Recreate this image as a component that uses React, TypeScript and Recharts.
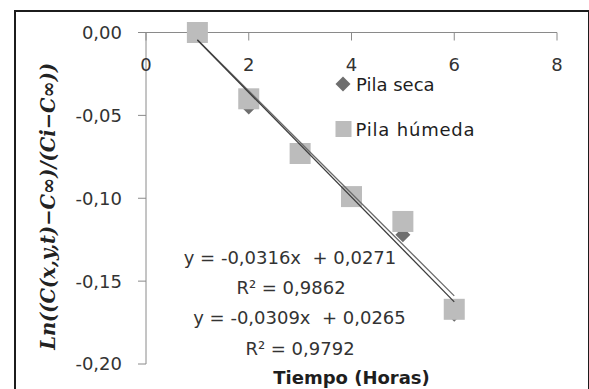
import React from 'react';
import { ComposedChart, Scatter, XAxis, YAxis } from 'recharts';

const horas = [1, 2, 3, 4, 5, 6];
const pilaSeca = [0, -0.045, -0.071, -0.098, -0.122, -0.17];
const pilaHumeda = [0, -0.04, -0.073, -0.099, -0.114, -0.167];
const xTicks = [0, 2, 4, 6, 8];
const yTicks = [-0.2, -0.15, -0.1, -0.05, 0];
const seriesNames = ['Pila seca', 'Pila húmeda'];
const trendSeca = { slope: -0.0316, intercept: 0.0271, r2: 0.9862 };
const trendHumeda = { slope: -0.0309, intercept: 0.0265, r2: 0.9792 };
const trendRange = [1, 6];
const xTitle = 'Tiempo (Horas)';
const yTitle = 'Ln((C(x,y,t)−C∞)/(Ci−C∞))';

const FONT = '"DejaVu Sans", sans-serif';
const AXIS = '#8a8a8a';
const TEXT = '#333333';
const SQ = '#bcbcbc';
const DIA = '#6e6e6e';

const secaData = horas.map((x, i) => ({ x, y: pilaSeca[i] }));
const humedaData = horas.map((x, i) => ({ x, y: pilaHumeda[i] }));
const lineOf = (t: { slope: number; intercept: number }) =>
  trendRange.map((x) => ({ x, y: t.slope * x + t.intercept }));

const comma = (v: number, d: number) => v.toFixed(d).replace('.', ',');
const eq = (t: { slope: number; intercept: number }) =>
  `y = ${comma(t.slope, 4)}x  + ${comma(t.intercept, 4)}`;
const r2 = (t: { r2: number }) => `R² = ${comma(t.r2, 4)}`;

const Square = (p: any) => (
  <rect x={p.cx - 10.5} y={p.cy - 10.5} width={21} height={21} fill={SQ} />
);
const Diamond = (p: any) => (
  <polygon
    points={`${p.cx},${p.cy - 7.5} ${p.cx + 7.5},${p.cy} ${p.cx},${p.cy + 7.5} ${p.cx - 7.5},${p.cy}`}
    fill={DIA}
  />
);
const NoShape = () => <g />;

const XTick = (p: any) => (
  <g>
    <line x1={p.x} x2={p.x} y1={p.y} y2={p.y + 8} stroke={AXIS} />
    <text
      x={p.x}
      y={p.y + 32}
      textAnchor="middle"
      dominantBaseline="central"
      fontFamily={FONT}
      fontSize={18}
      fill={TEXT}
    >
      {p.payload.value}
    </text>
  </g>
);

const YTitle = (p: any) => {
  const vb = p.viewBox;
  const cx = vb.x + 2;
  const cy = vb.y + vb.height / 2 + 8;
  return (
    <text
      x={cx}
      y={cy}
      transform={`rotate(-90 ${cx} ${cy})`}
      textAnchor="middle"
      dominantBaseline="central"
      fontFamily='"DejaVu Serif", serif'
      fontWeight="bold"
      fontStyle="italic"
      fontSize={19.5}
      fill="#222"
    >
      {yTitle}
    </text>
  );
};

const txt = { fontFamily: FONT, fontSize: 18, fill: TEXT, whiteSpace: 'pre' as const };
const legTxt = { fontFamily: FONT, fontSize: 18, fill: '#1e1e1e' };

export default function App() {
  return (
    <div
      style={{
        position: 'fixed',
        left: 0,
        top: 0,
        width: 589,
        height: 389,
        overflow: 'hidden',
        background: '#fff',
      }}
    >
      <div
        style={{
          position: 'absolute',
          left: 14,
          top: 9.5,
          width: 572,
          height: 420,
          border: '2px solid #1c1c1c',
        }}
      />
      <div style={{ position: 'absolute', left: 0, top: 0 }}>
        <ComposedChart
          width={589}
          height={389}
          margin={{ top: 12.5, right: 32, bottom: 25, left: 46 }}
        >
          <XAxis
            type="number"
            dataKey="x"
            orientation="top"
            domain={[0, 8]}
            ticks={xTicks}
            interval={0}
            height={20}
            tickSize={0}
            tickMargin={0}
            tickLine={false}
            axisLine={{ stroke: AXIS }}
            tick={<XTick />}
          />
          <YAxis
            type="number"
            dataKey="y"
            domain={[-0.2, 0]}
            ticks={yTicks}
            interval={0}
            width={100}
            tickSize={8}
            tickMargin={16}
            axisLine={{ stroke: AXIS }}
            tickLine={{ stroke: AXIS }}
            tick={{ fontFamily: FONT, fontSize: 18, fill: TEXT }}
            tickFormatter={(v: number) => comma(v, 2)}
            label={<YTitle />}
          />
          <Scatter data={secaData} shape={<Diamond />} isAnimationActive={false} legendType="none" />
          <Scatter data={humedaData} shape={<Square />} isAnimationActive={false} legendType="none" />
          <Scatter
            data={lineOf(trendHumeda)}
            shape={<NoShape />}
            line={{ stroke: '#6a6a6a', strokeWidth: 1.3 }}
            isAnimationActive={false}
            legendType="none"
          />
          <Scatter
            data={lineOf(trendSeca)}
            shape={<NoShape />}
            line={{ stroke: '#3c3c3c', strokeWidth: 1.3 }}
            isAnimationActive={false}
            legendType="none"
          />
          <g>
            <polygon points="343,76.5 350.5,84 343,91.5 335.5,84" fill={DIA} />
            <text x={356} y={84} dominantBaseline="central" style={legTxt}>
              {seriesNames[0]}
            </text>
            <rect x={335.5} y={121} width={16} height={16} fill={SQ} />
            <text x={355.5} y={129} dominantBaseline="central" style={{ ...legTxt, letterSpacing: 0.8 }}>
              {seriesNames[1]}
            </text>
          </g>
          <text x={290} y={257} textAnchor="middle" dominantBaseline="central" style={txt}>
            {eq(trendSeca)}
          </text>
          <text x={291} y={287} textAnchor="middle" dominantBaseline="central" style={txt}>
            {r2(trendSeca)}
          </text>
          <text x={299.5} y={317} textAnchor="middle" dominantBaseline="central" style={txt}>
            {eq(trendHumeda)}
          </text>
          <text x={300} y={348} textAnchor="middle" dominantBaseline="central" style={txt}>
            {r2(trendHumeda)}
          </text>
          <text
            x={351.5}
            y={377}
            textAnchor="middle"
            dominantBaseline="central"
            style={{ ...txt, fontWeight: 'bold', fill: '#1e1e1e' }}
          >
            {xTitle}
          </text>
        </ComposedChart>
      </div>
    </div>
  );
}
